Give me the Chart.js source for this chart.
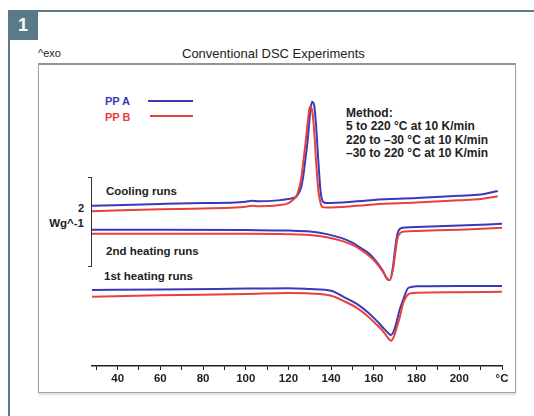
<!DOCTYPE html>
<html>
<head>
<meta charset="utf-8">
<script src="https://cdn.jsdelivr.net/npm/chart.js@4.4.1/dist/chart.umd.min.js"></script>
<style>
    body { margin: 0; width: 534px; height: 416px; background: #fff; position: relative; overflow: hidden;
           font-family: "Liberation Sans", Arial, sans-serif; color: #222; }
    .abs { position: absolute; line-height: 1; white-space: nowrap; }
    #linhaTopo { left: 8px; top: 10px; width: 526px; height: 2px; background: #5a7a88; }
    #linhaEsq { left: 8px; top: 10px; width: 2px; height: 406px; background: #5a7a88; }
    #caixa { left: 8px; top: 10px; width: 30px; height: 30px; background: #5a7a88; color: #fff;
             font-weight: bold; font-size: 18px; text-align: center; line-height: 30px; }
    #moldura { left: 38px; top: 63px; width: 476px; height: 327px; border: 1.5px solid #a9a3a0;
               border-top: 2px solid #9a908c; box-shadow: 0 2px 2px #ddd; }
    .b { font-weight: bold; }
    canvas { position: absolute; left: 0; top: 0; }
</style>
</head>
<body>
<div id="linhaTopo" class="abs"></div>
<div id="linhaEsq" class="abs"></div>
<div id="caixa" class="abs">1</div>
<div id="moldura" class="abs"></div>

<div class="abs" style="left:38px; top:48px; font-size:11px;">^exo</div>
<div class="abs" style="left:182px; top:47px; font-size:13px;">Conventional DSC Experiments</div>

<div class="abs b" style="left:105px; top:96px; font-size:11px; color:#3a3ab8;">PP A</div>
<div class="abs b" style="left:105px; top:112px; font-size:11px; color:#e8403c;">PP B</div>
<div class="abs" style="left:148px; top:100px; width:45px; height:2px; background:#3a3ab8;"></div>
<div class="abs" style="left:150px; top:115px; width:43px; height:2px; background:#e8403c;"></div>

<div class="abs b" style="left:346px; top:107px; font-size:12px; line-height:13.3px;">
    Method:<br>5 to 220 °C at 10 K/min<br>220 to –30 °C at 10 K/min<br>–30 to 220 °C at 10 K/min
</div>

<div class="abs b" style="left:106px; top:186px; font-size:11.5px;">Cooling runs</div>
<div class="abs b" style="left:106px; top:246px; font-size:11.5px;">2nd heating runs</div>
<div class="abs b" style="left:104px; top:271px; font-size:11.5px;">1st heating runs</div>

<div class="abs b" style="left:60px; width:24px; text-align:right; top:203px; font-size:11px;">2</div>
<div class="abs b" style="left:30px; width:54px; text-align:right; top:218px; font-size:11.5px;">Wg^-1</div>
<!-- colchete da escala de 2 W/g -->
<div class="abs" style="left:88px; top:177px; width:3px; height:88px; border:1.5px solid #333; border-left:none;"></div>

<canvas id="graficoDSC" width="534" height="416"></canvas>

<script>
// temperaturas (°C) e sinal (W/g, com deslocamento vertical)
const tempResfriamento = [28, 60, 80, 95, 100, 103, 106, 115, 120, 122, 124, 126, 127, 128, 129, 130, 131, 132, 133, 134, 135, 136, 138, 140, 160, 180, 200, 210, 218];
const resfriamentoA = [3.56, 3.60, 3.62, 3.63, 3.65, 3.67, 3.66, 3.68, 3.71, 3.73, 3.78, 3.98, 4.24, 4.62, 5.02, 5.55, 5.87, 5.80, 5.30, 4.55, 3.90, 3.66, 3.62, 3.62, 3.69, 3.73, 3.78, 3.81, 3.89];
const resfriamentoB = [3.44, 3.48, 3.50, 3.52, 3.54, 3.56, 3.55, 3.57, 3.62, 3.69, 3.80, 4.18, 4.55, 4.96, 5.40, 5.76, 5.70, 5.25, 4.50, 3.90, 3.62, 3.53, 3.52, 3.52, 3.59, 3.63, 3.68, 3.71, 3.77];

const tempAquecimento2 = [28, 60, 100, 120, 130, 138, 145, 150, 154, 158, 161, 164, 166.5, 167.5, 169, 170, 171, 172.5, 175, 180, 200, 220];
const aquecimento2A = [3.03, 3.03, 3.02, 3.01, 2.99, 2.93, 2.84, 2.74, 2.62, 2.49, 2.33, 2.13, 1.92, 1.91, 2.22, 2.62, 2.93, 3.06, 3.08, 3.09, 3.12, 3.16];
const aquecimento2B = [2.94, 2.94, 2.94, 2.93, 2.91, 2.86, 2.78, 2.69, 2.58, 2.44, 2.30, 2.11, 1.93, 1.91, 2.16, 2.50, 2.82, 2.96, 2.99, 3.00, 3.03, 3.07];

const tempAquecimento1 = [28, 60, 100, 120, 130, 140, 146, 152, 157, 161, 164.5, 167, 168, 169.5, 171, 172, 173.5, 174, 176, 178, 180, 200, 220];
const aquecimento1A = [1.69, 1.70, 1.72, 1.73, 1.71, 1.67, 1.53, 1.38, 1.20, 1.02, 0.84, 0.72, 0.69, 0.80, 1.05, 1.24, 1.44, 1.51, 1.73, 1.76, 1.77, 1.78, 1.78];
const aquecimento1B = [1.54, 1.57, 1.60, 1.62, 1.61, 1.56, 1.44, 1.29, 1.11, 0.93, 0.76, 0.60, 0.56, 0.67, 0.90, 1.06, 1.36, 1.43, 1.59, 1.62, 1.63, 1.64, 1.65];

const corA = '#3a3ab8';
const corB = '#e8403c';

function montarPontos(temps, valores) {
    let pontos = [];
    for (let i = 0; i < temps.length; i++) {
        pontos.push({ x: temps[i], y: valores[i] });
    }
    return pontos;
}

function serie(temps, valores, cor) {
    return {
        data: montarPontos(temps, valores),
        borderColor: cor,
        borderWidth: 2,
        pointRadius: 0,
        fill: false,
        cubicInterpolationMode: 'monotone'
    };
}

// vermelho primeiro, azul por cima
const datasets = [
    serie(tempResfriamento, resfriamentoB, corB),
    serie(tempResfriamento, resfriamentoA, corA),
    serie(tempAquecimento2, aquecimento2B, corB),
    serie(tempAquecimento2, aquecimento2A, corA),
    serie(tempAquecimento1, aquecimento1B, corB),
    serie(tempAquecimento1, aquecimento1A, corA)
];

new Chart(document.getElementById('graficoDSC'), {
    type: 'line',
    data: { datasets: datasets },
    options: {
        responsive: false,
        animation: false,
        layout: { padding: { left: 92, right: 32, top: 64, bottom: 24 } },
        plugins: { legend: { display: false }, tooltip: { enabled: false } },
        scales: {
            x: {
                type: 'linear',
                min: 28,
                max: 220,
                afterFit: function (scale) { scale.height = 26; },
                border: { display: true, color: '#222', width: 1.5 },
                grid: { drawOnChartArea: false, drawTicks: true, tickLength: 4, color: '#222', lineWidth: 1 },
                ticks: {
                    stepSize: 10,
                    includeBounds: false,
                    autoSkip: false,
                    maxRotation: 0,
                    padding: 2,
                    color: '#222',
                    font: { family: '"Liberation Sans", Arial, sans-serif', size: 11.5, weight: 'bold' },
                    callback: function (valor) {
                        if (valor == 220) return '°C';
                        if (valor % 20 == 0 && valor <= 200) return valor;
                        return '';
                    }
                }
            },
            y: {
                display: false,
                min: 0,
                max: 6.71
            }
        }
    }
});
</script>
</body>
</html>
